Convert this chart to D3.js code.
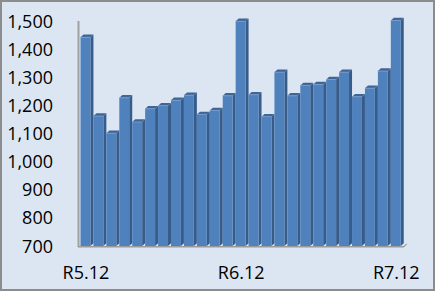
<!DOCTYPE html>
<html><head><meta charset="utf-8">
<script src="https://cdn.jsdelivr.net/npm/d3@7"></script>
<style>
html,body{margin:0;padding:0;background:#fff;}
svg{display:block;}
text{font-family:"Open Sans",sans-serif;fill:#000;}
</style></head>
<body>
<script>
const categories = ["R5.12","R6.1","R6.2","R6.3","R6.4","R6.5","R6.6","R6.7","R6.8","R6.9","R6.10","R6.11","R6.12","R7.1","R7.2","R7.3","R7.4","R7.5","R7.6","R7.7","R7.8","R7.9","R7.10","R7.11","R7.12"];
const values = [1442,1162,1101,1227,1141,1188,1199,1218,1236,1168,1182,1234,1499,1238,1160,1318,1234,1271,1274,1292,1318,1231,1261,1322,1502];
const yTicks = [700,800,900,1000,1100,1200,1300,1400,1500];
const xTickLabels = ["R5.12","R6.12","R7.12"];

const W = 435, H = 291;
const svg = d3.select("body").append("svg").attr("width", W).attr("height", H);

svg.append("rect").attr("x",1).attr("y",1).attr("width",W-2).attr("height",H-2)
  .attr("fill","#DCE6F2").attr("stroke","#8C8C8C").attr("stroke-width",2);

const floorY = 246, topY = 21;
const x = d3.scaleBand().domain(categories).range([80.5, 80.5 + 25*12.93]).padding(0);
const y = d3.scaleLinear().domain([700,1500]).range([floorY, topY]);
const dx = 3, dy = 2.7;

// axis line (vertical)
svg.append("line").attr("x1",78.5).attr("x2",78.5).attr("y1",topY).attr("y2",floorY+1)
  .attr("stroke","#A0A0A0").attr("stroke-width",2);

// floor
const fx0 = 78, fx1 = x.range()[1];
svg.append("path")
  .attr("d", `M${fx0},${floorY} L${fx1},${floorY} L${fx1+dx},${floorY-dy} L${fx1+dx},${floorY-dy+1.5} L${fx1},${floorY+1.5} L${fx0},${floorY+1.5} Z`)
  .attr("fill","#9A9A9A");

const g = svg.append("g");
categories.forEach((c,i)=>{
  const x0 = x(c), x1 = x0 + x.bandwidth() - dx;
  const yt = y(values[i]);
  // side
  g.append("path").attr("d",`M${x1},${yt} L${x1+dx},${yt-dy} L${x1+dx},${floorY-dy} L${x1},${floorY} Z`)
    .attr("fill","#375C8A");
  // front
  g.append("rect").attr("x",x0).attr("y",yt).attr("width",x1-x0).attr("height",floorY-yt)
    .attr("fill","#4F81BD");
  // top
  g.append("path").attr("d",`M${x0},${yt} L${x0+dx},${yt-dy} L${x1+dx},${yt-dy} L${x1},${yt} Z`)
    .attr("fill","#3E6597");
  g.append("line").attr("x1",x0).attr("x2",x1).attr("y1",yt).attr("y2",yt)
    .attr("stroke","#7EA1CF").attr("stroke-width",0.8);
});

// y tick labels
svg.append("g").selectAll("text").data(yTicks).join("text")
  .attr("x",53).attr("y",d=>y(d)+6.5).attr("text-anchor","end")
  .attr("font-size",18).text(d=>d3.format(",")(d));

// x tick labels
svg.append("g").selectAll("text").data(xTickLabels).join("text")
  .attr("x",d=>x(d)+x.bandwidth()/2-1).attr("y",279).attr("text-anchor","middle")
  .attr("font-size",18).text(d=>d);
</script>
</body></html>
